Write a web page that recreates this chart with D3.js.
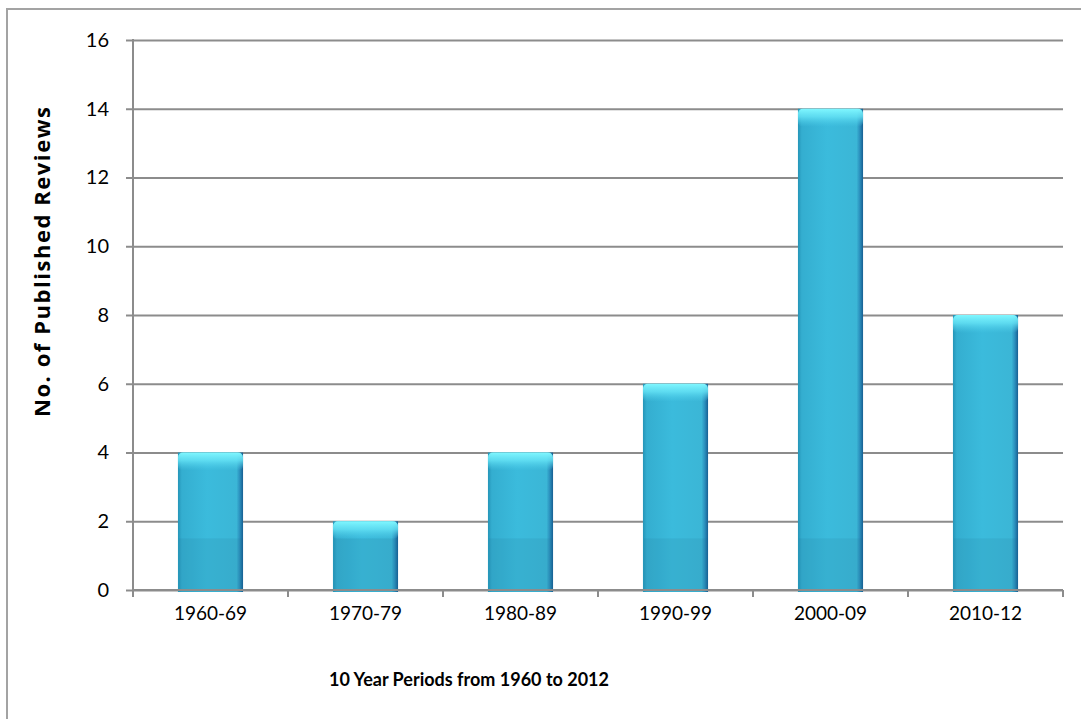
<!DOCTYPE html>
<html>
<head>
<meta charset="utf-8">
<script src="https://cdn.jsdelivr.net/npm/d3@7"></script>
<style>
  body { margin: 0; background: #fff; }
  svg { display: block; }
  text { font-family: Lato, "Open Sans", sans-serif; fill: #000; }
</style>
</head>
<body>
<svg id="chart" width="1081" height="719"></svg>
<script>
// data
var periods = ["1960-69", "1970-79", "1980-89", "1990-99", "2000-09", "2010-12"];
var reviews = [4, 2, 4, 6, 14, 8];
var yTicks = [0, 2, 4, 6, 8, 10, 12, 14, 16];

var svg = d3.select("#chart");
var pLeft = 133, pRight = 1063, pTop = 40, pBottom = 590;

// outer chart border (right and bottom run off the picture)
svg.append("rect")
  .attr("x", 7).attr("y", 9)
  .attr("width", 1090).attr("height", 720)
  .attr("fill", "none")
  .attr("stroke", "#a3a3a3")
  .attr("stroke-width", 2);

var x = d3.scaleBand().domain(periods).range([pLeft, pRight]).paddingInner(0.58).paddingOuter(0.29);
var xb = d3.scaleBand().domain(periods).range([pLeft, pRight]);
var y = d3.scaleLinear().domain([0, 16]).range([pBottom, pTop]);

var defs = svg.append("defs");
var hg = defs.append("linearGradient").attr("id", "body").attr("x1", 0).attr("x2", 1).attr("y1", 0).attr("y2", 0);
hg.append("stop").attr("offset", "0%").attr("stop-color", "#2595b8");
hg.append("stop").attr("offset", "6%").attr("stop-color", "#34aed0");
hg.append("stop").attr("offset", "45%").attr("stop-color", "#3bbbdc");
hg.append("stop").attr("offset", "90%").attr("stop-color", "#3bb6d6");
hg.append("stop").attr("offset", "95%").attr("stop-color", "#2b8fbd");
hg.append("stop").attr("offset", "100%").attr("stop-color", "#175f92");

var cap = defs.append("linearGradient").attr("id", "cap").attr("x1", 0).attr("x2", 0).attr("y1", 0).attr("y2", 1);
cap.append("stop").attr("offset", "0%").attr("stop-color", "#80f7ff").attr("stop-opacity", 1);
cap.append("stop").attr("offset", "45%").attr("stop-color", "#66e4f6").attr("stop-opacity", 0.8);
cap.append("stop").attr("offset", "100%").attr("stop-color", "#4fd0ec").attr("stop-opacity", 0);

// gridlines
svg.append("g")
  .attr("transform", "translate(" + pLeft + ",0)")
  .call(d3.axisLeft(y).tickValues(yTicks).tickSize(-(pRight - pLeft)).tickFormat(""))
  .call(g => g.select(".domain").remove())
  .call(g => g.selectAll("line").attr("stroke", "#8c8c8c").attr("stroke-width", 2));

// bars
var bars = svg.append("g").selectAll("g").data(reviews).enter().append("g");
bars.append("rect")
  .attr("x", (d, i) => x(periods[i]))
  .attr("y", d => y(d))
  .attr("width", x.bandwidth())
  .attr("height", d => y(0) - y(d) + 2)
  .attr("fill", "url(#body)");
bars.append("rect")
  .attr("x", (d, i) => x(periods[i]) + 1)
  .attr("y", d => Math.max(y(d), y(1.5)))
  .attr("width", x.bandwidth() - 2)
  .attr("height", d => y(0) - Math.max(y(d), y(1.5)) + 2)
  .attr("fill", "#1f6f88")
  .attr("opacity", 0.13);
bars.append("rect")
  .attr("x", (d, i) => x(periods[i]))
  .attr("y", d => y(d))
  .attr("width", x.bandwidth())
  .attr("height", 18)
  .attr("rx", 5)
  .attr("fill", "url(#cap)");

// y axis
var ya = svg.append("g")
  .attr("transform", "translate(" + pLeft + ",0)")
  .call(d3.axisLeft(y).tickValues(yTicks).tickSize(7).tickPadding(17));
ya.select(".domain").attr("stroke", "#8c8c8c").attr("stroke-width", 2).attr("d", "M0," + (pTop - 1) + "V" + (pBottom + 1));
ya.selectAll("line").attr("stroke", "#8c8c8c").attr("stroke-width", 2);
ya.selectAll("text").style("font-family", "Lato, sans-serif").style("font-size", "20px").attr("fill", "#000");

// x axis with ticks at category boundaries
svg.append("line")
  .attr("x1", pLeft).attr("x2", pRight)
  .attr("y1", pBottom).attr("y2", pBottom)
  .attr("stroke", "#8c8c8c").attr("stroke-width", 2);
var bounds = periods.map(p => xb(p)).concat([pRight]);
svg.append("g").selectAll("line").data(bounds).enter().append("line")
  .attr("x1", d => d).attr("x2", d => d)
  .attr("y1", pBottom).attr("y2", pBottom + 7)
  .attr("stroke", "#8c8c8c").attr("stroke-width", 2);
svg.append("g").selectAll("text").data(periods).enter().append("text")
  .attr("x", d => xb(d) + xb.bandwidth() / 2)
  .attr("y", 620)
  .attr("text-anchor", "middle")
  .style("font-size", "19px")
  .text(d => d);

// axis titles
svg.append("text")
  .attr("x", 469).attr("y", 686)
  .attr("text-anchor", "middle")
  .style("font-size", "18px").style("font-weight", "bold")
  .text("10 Year Periods from 1960 to 2012");
svg.append("text")
  .attr("transform", "translate(50,262) rotate(-90)")
  .attr("text-anchor", "middle")
  .attr("textLength", 310).attr("lengthAdjust", "spacing")
  .style("font-family", "'Open Sans', sans-serif")
  .style("font-size", "22px").style("font-weight", "bold")
  .text("No. of Published Reviews");
</script>
</body>
</html>
